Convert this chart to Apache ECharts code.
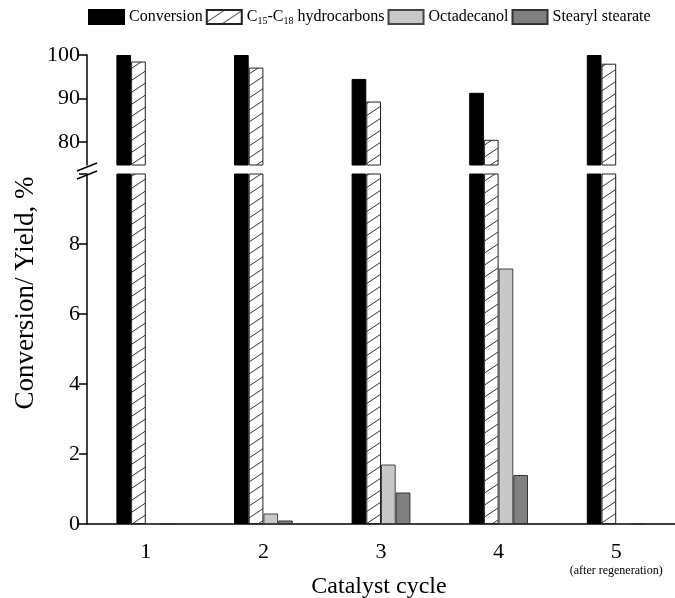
<!DOCTYPE html>
<html>
<head>
<meta charset="utf-8">
<script src="https://cdn.jsdelivr.net/npm/echarts@6/dist/echarts.min.js"></script>
<style>
html, body { margin: 0; padding: 0; background: #fff; }
#chart { width: 675px; height: 598px; }
</style>
</head>
<body>
<div id="chart"></div>
<script>
// values
var cycles = ['1', '2', '3', '4', '5'];
var conversion = [100, 100, 94.5, 91.3, 100];
var hydrocarbons = [98.5, 97.1, 89.3, 80.5, 98.0];
var octadecanol = [0, 0.3, 1.7, 7.3, 0];
var stearylStearate = [0, 0.1, 0.9, 1.4, 0];
var upperTicks = [80, 90, 100];

var names = ['Conversion', 'C15-C18 hydrocarbons', 'Octadecanol', 'Stearyl stearate'];
var FONT = 'Liberation Serif';

// hatch for the hydrocarbon bars
function hatch() {
    var c = document.createElement('canvas');
    c.width = 18; c.height = 12;
    var g = c.getContext('2d');
    g.fillStyle = '#fff';
    g.fillRect(0, 0, 18, 12);
    g.strokeStyle = '#333';
    g.lineWidth = 1;
    [-12, 0, 12].forEach(function (o) {
        g.beginPath();
        g.moveTo(0, 12 + o);
        g.lineTo(18, o);
        g.stroke();
    });
    return c;
}

var styles = [
    { color: '#000', borderColor: '#000', borderWidth: 1 },
    { color: { image: hatch(), repeat: 'repeat' }, borderColor: '#222', borderWidth: 1 },
    { color: '#c8c8c8', borderColor: '#444', borderWidth: 1 },
    { color: '#808080', borderColor: '#333', borderWidth: 1 }
];
var values = [conversion, hydrocarbons, octadecanol, stearylStearate];

var series = [];
[0, 1].forEach(function (gi) {
    names.forEach(function (n, i) {
        series.push({
            name: n,
            type: 'bar',
            xAxisIndex: gi,
            yAxisIndex: gi,
            barWidth: '12.5%',
            barGap: '0%',
            itemStyle: styles[i],
            data: values[i]
        });
    });
});

var axisLine = { lineStyle: { color: '#000', width: 1.5 } };
var tickStyle = { color: '#000', width: 1.5 };
var labelFont = { color: '#000', fontFamily: FONT, fontSize: 22 };

var chart = echarts.init(document.getElementById('chart'));
chart.setOption({
    animation: false,
    legend: {
        data: names,
        left: 88,
        top: 9,
        padding: 0,
        itemGap: 3,
        itemWidth: 35,
        itemHeight: 14,
        icon: 'rect',
        selectedMode: false,
        formatter: function (n) {
            if (n === 'C15-C18 hydrocarbons') {
                return '{n|C}{s|15}{n|-C}{s|18}{n| hydrocarbons}';
            }
            return n;
        },
        textStyle: {
            color: '#000', fontFamily: FONT, fontSize: 16,
            rich: {
                n: { fontFamily: FONT, fontSize: 16, color: '#000' },
                s: { fontFamily: FONT, fontSize: 10, color: '#000', padding: [9, 0, 0, 0] }
            }
        }
    },
    grid: [
        { left: 87, right: 0, top: 55, height: 110, outerBoundsMode: 'none' },
        { left: 87, right: 0, top: 174, height: 350, outerBoundsMode: 'none' }
    ],
    xAxis: [
        { type: 'category', gridIndex: 0, data: cycles, show: false },
        {
            type: 'category', gridIndex: 1, data: cycles,
            axisLine: axisLine,
            axisTick: { alignWithLabel: true, length: 8, lineStyle: tickStyle },
            axisLabel: {
                interval: 0,
                hideOverlap: false,
                color: '#000', fontFamily: FONT, fontSize: 22, margin: 17,
                formatter: function (v) {
                    return v === '5' ? v + '\n{s|(after regeneration)}' : v;
                },
                rich: { s: { fontFamily: FONT, fontSize: 12, color: '#000', padding: [2, 0, 0, 0] } }
            }
        }
    ],
    yAxis: [
        {
            type: 'value', gridIndex: 0, min: 74.7, max: 100,
            splitLine: { show: false },
            axisLine: { show: true, lineStyle: axisLine.lineStyle },
            axisTick: { show: true, customValues: upperTicks, length: 8, lineStyle: tickStyle },
            axisLabel: Object.assign({ customValues: upperTicks, margin: 7 }, labelFont)
        },
        {
            type: 'value', gridIndex: 1, min: 0, max: 10, interval: 2,
            splitLine: { show: false },
            axisLine: { show: true, lineStyle: axisLine.lineStyle },
            axisTick: { show: true, length: 8, lineStyle: tickStyle },
            axisLabel: Object.assign({
                margin: 7,
                formatter: function (v) { return v === 10 ? '' : v; }
            }, labelFont)
        }
    ],
    graphic: [
        {
            type: 'text', x: 26, y: 293, rotation: Math.PI / 2,
            style: {
                text: 'Conversion/ Yield, %', fill: '#000',
                font: '27px "Liberation Serif"', align: 'center', verticalAlign: 'middle'
            }
        },
        {
            type: 'text', x: 379, y: 587,
            style: {
                text: 'Catalyst cycle', fill: '#000',
                font: '24px "Liberation Serif"', align: 'center', verticalAlign: 'middle'
            }
        },
        { type: 'line', shape: { x1: 77, y1: 171, x2: 97, y2: 163 }, style: { stroke: '#000', lineWidth: 1.5 } },
        { type: 'line', shape: { x1: 77, y1: 179, x2: 97, y2: 171 }, style: { stroke: '#000', lineWidth: 1.5 } }
    ],
    series: series
});
</script>
</body>
</html>
